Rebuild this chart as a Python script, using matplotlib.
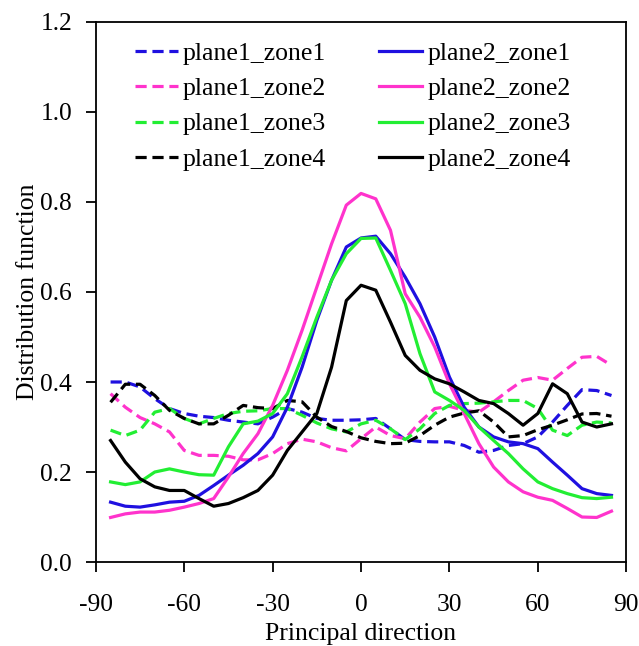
import matplotlib
matplotlib.use("Agg")
import matplotlib.pyplot as plt

plt.rcParams['font.family'] = ['Liberation Serif', 'DejaVu Serif']

angle = [-85, -80, -75, -70, -65, -60, -55, -50, -45, -40, -35, -30, -25, -20, -15, -10, -5,
         0, 5, 10, 15, 20, 25, 30, 35, 40, 45, 50, 55, 60, 65, 70, 75, 80, 85]

plane1_zone1 = [0.400, 0.400, 0.389, 0.363, 0.341, 0.330, 0.324, 0.321, 0.315, 0.311, 0.307, 0.322,
                0.341, 0.333, 0.319, 0.315, 0.315, 0.316, 0.319, 0.296, 0.272, 0.268, 0.267, 0.267,
                0.259, 0.244, 0.248, 0.259, 0.263, 0.278, 0.311, 0.348, 0.383, 0.381, 0.370]
plane1_zone2 = [0.374, 0.344, 0.321, 0.307, 0.289, 0.248, 0.237, 0.237, 0.235, 0.227, 0.227, 0.241,
                0.263, 0.273, 0.267, 0.254, 0.247, 0.274, 0.300, 0.281, 0.274, 0.311, 0.341, 0.346,
                0.337, 0.333, 0.356, 0.381, 0.404, 0.410, 0.404, 0.430, 0.455, 0.457, 0.437]
plane1_zone3 = [0.293, 0.281, 0.293, 0.333, 0.341, 0.319, 0.307, 0.319, 0.330, 0.335, 0.336, 0.341,
                0.341, 0.326, 0.309, 0.296, 0.289, 0.307, 0.315, 0.296, 0.272, 0.296, 0.330, 0.348,
                0.352, 0.353, 0.356, 0.359, 0.359, 0.341, 0.293, 0.281, 0.304, 0.311, 0.309]
plane1_zone4 = [0.355, 0.395, 0.395, 0.370, 0.337, 0.319, 0.307, 0.307, 0.326, 0.348, 0.343, 0.341,
                0.359, 0.356, 0.322, 0.301, 0.290, 0.276, 0.268, 0.263, 0.264, 0.281, 0.304, 0.322,
                0.331, 0.336, 0.311, 0.278, 0.281, 0.294, 0.304, 0.316, 0.329, 0.330, 0.324]
plane2_zone1 = [0.133, 0.124, 0.122, 0.127, 0.133, 0.135, 0.148, 0.170, 0.193, 0.215, 0.241, 0.278,
                0.344, 0.433, 0.537, 0.626, 0.700, 0.720, 0.724, 0.685, 0.633, 0.574, 0.500, 0.411,
                0.344, 0.300, 0.278, 0.267, 0.263, 0.252, 0.222, 0.193, 0.163, 0.152, 0.148]
plane2_zone2 = [0.099, 0.107, 0.111, 0.111, 0.115, 0.122, 0.130, 0.141, 0.189, 0.241, 0.285, 0.348,
                0.426, 0.515, 0.611, 0.707, 0.793, 0.819, 0.807, 0.737, 0.596, 0.544, 0.478, 0.396,
                0.330, 0.263, 0.211, 0.178, 0.156, 0.144, 0.137, 0.119, 0.100, 0.099, 0.113]
plane2_zone3 = [0.178, 0.172, 0.178, 0.200, 0.207, 0.200, 0.194, 0.193, 0.256, 0.307, 0.313, 0.330,
                0.374, 0.456, 0.544, 0.626, 0.685, 0.719, 0.720, 0.648, 0.574, 0.463, 0.378, 0.359,
                0.337, 0.300, 0.270, 0.241, 0.207, 0.178, 0.163, 0.152, 0.143, 0.141, 0.144]
plane2_zone4 = [0.270, 0.222, 0.185, 0.167, 0.159, 0.159, 0.141, 0.124, 0.130, 0.143, 0.159, 0.193,
                0.248, 0.289, 0.330, 0.433, 0.581, 0.615, 0.604, 0.533, 0.459, 0.426, 0.407, 0.396,
                0.378, 0.359, 0.352, 0.330, 0.304, 0.330, 0.396, 0.374, 0.311, 0.300, 0.307]

x_ticks = [-90, -60, -30, 0, 30, 60, 90]
y_ticks = [0.0, 0.2, 0.4, 0.6, 0.8, 1.0, 1.2]

blue = '#1f10e0'
magenta = '#ff33cc'
green = '#22ee33'
black = '#000000'

fig = plt.figure(figsize=(6.39, 6.46), dpi=100)
ax = fig.add_axes([0.150, 0.130, 0.830, 0.836])

lw = 2.3
dash = (3.5, 1.8)
series = [
    ('plane1_zone1', plane1_zone1, blue, True),
    ('plane1_zone2', plane1_zone2, magenta, True),
    ('plane1_zone3', plane1_zone3, green, True),
    ('plane1_zone4', plane1_zone4, black, True),
    ('plane2_zone1', plane2_zone1, blue, False),
    ('plane2_zone2', plane2_zone2, magenta, False),
    ('plane2_zone3', plane2_zone3, green, False),
    ('plane2_zone4', plane2_zone4, black, False),
]
for name, vals, col, dashed in series:
    if dashed:
        ax.plot(angle, vals, color=col, lw=lw, dashes=dash, label=name)
    else:
        ax.plot(angle, vals, color=col, lw=lw, label=name)

ax.set_xlim(-90, 90)
ax.set_ylim(0, 1.2)
ax.set_xticks(x_ticks)
ax.set_yticks(y_ticks)
ax.set_xticklabels([str(t) for t in x_ticks])
ax.set_yticklabels([f"{t:.1f}" for t in y_ticks])
ax.tick_params(direction='out', length=7, width=1.3, labelsize=18.4, top=False, right=False)
ax.tick_params(axis='x', pad=16)
ax.tick_params(axis='y', pad=10)
for s in ax.spines.values():
    s.set_linewidth(1.3)

ax.set_xlabel('Principal direction', fontsize=18.5, labelpad=5)
ax.set_ylabel('Distribution function', fontsize=18.5, labelpad=1)

handles, labels = ax.get_legend_handles_labels()
leg = ax.legend(handles, labels, ncol=2, loc='upper left', bbox_to_anchor=(0.03, 1.005),
                frameon=False, fontsize=18.5, handlelength=1.67, handletextpad=0.2,
                columnspacing=2.07, labelspacing=0.47)

fig.savefig('out.png', dpi=100)
